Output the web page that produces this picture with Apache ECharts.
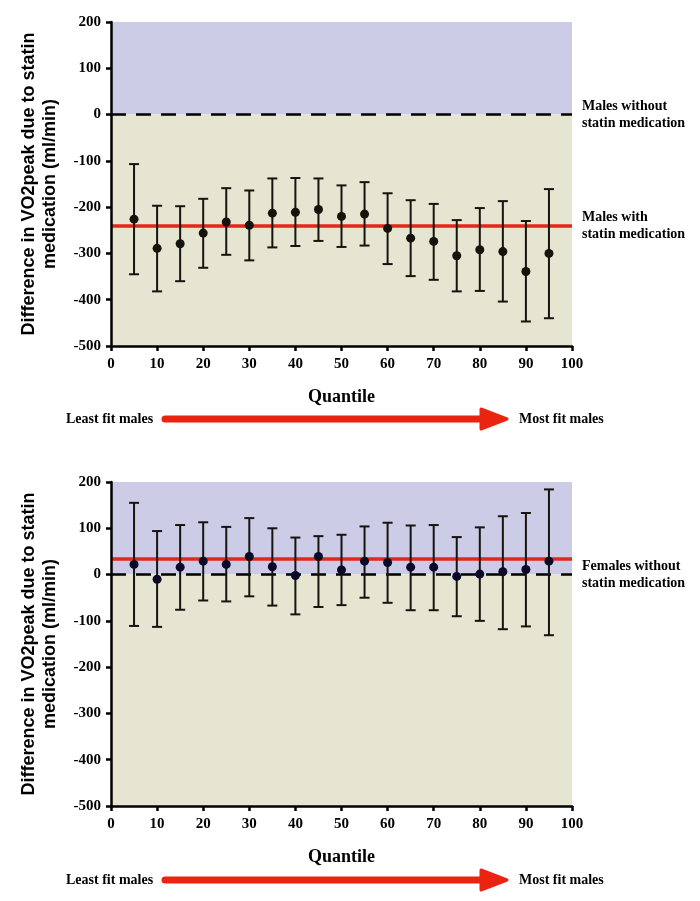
<!DOCTYPE html>
<html><head><meta charset="utf-8">
<script src="https://cdn.jsdelivr.net/npm/echarts@6/dist/echarts.min.js"></script>
<style>html,body{margin:0;padding:0;background:#fff}#c{width:700px;height:901px}</style>
</head><body><div id="c"></div>
<script>
const quantiles = [5,10,15,20,25,30,35,40,45,50,55,60,65,70,75,80,85,90,95];
const maleMean  = [-226,-289,-279,-256,-232,-239,-213,-211,-205,-220,-215,-246,-267,-274,-305,-292,-296,-339,-300];
const maleUpper = [-107,-197,-198,-182,-159,-164,-138,-137,-138,-153,-146,-170,-185,-193,-228,-202,-187,-230,-161];
const maleLower = [-345,-382,-360,-331,-303,-315,-287,-284,-273,-286,-283,-323,-349,-357,-382,-381,-404,-447,-440];
const femaleMean  = [22,-10,16,29,22,39,17,-2,39,10,29,26,16,16,-4,1,6,11,29];
const femaleUpper = [155,94,107,113,103,122,100,80,83,86,104,112,106,107,81,102,126,133,184];
const femaleLower = [-111,-113,-76,-56,-58,-47,-67,-86,-70,-66,-50,-61,-77,-77,-90,-100,-118,-112,-131];
const maleStatinLevel = -240;
const femaleStatinLevel = 35;
const referenceLevel = 0;
const yMin = -500, yMax = 200, yStep = 100;
const xMin = 0, xMax = 100, xStep = 10;
const yTitle = 'Difference in VO2peak due to statin\nmedication (ml/min)';
const xTitle = 'Quantile';
const lblMaleWithout = 'Males without\nstatin medication';
const lblMaleWith = 'Males with\nstatin medication';
const lblFemaleWithout = 'Females without\nstatin medication';
const arrowLeft = 'Least fit males';
const arrowRight = 'Most fit males';

const SERIF = '"Liberation Serif","Times New Roman",serif';
const SANS = '"Liberation Sans",Arial,sans-serif';
const LAV = '#cdcce6', BEIGE = '#e6e5d1', RED = '#e5261a', ARROW_RED = '#ea2410';

const chart = echarts.init(document.getElementById('c'), null, {renderer: 'canvas'});

function errorBar(params, api) {
  const x = api.value(0), lo = api.value(1), hi = api.value(2);
  const a = api.coord([x, hi]), b = api.coord([x, lo]);
  const hw = 5;
  const style = {stroke: '#15140e', lineWidth: 2};
  return {type: 'group', children: [
    {type: 'line', shape: {x1: a[0], y1: a[1], x2: b[0], y2: b[1]}, style},
    {type: 'line', shape: {x1: a[0]-hw, y1: a[1], x2: a[0]+hw, y2: a[1]}, style},
    {type: 'line', shape: {x1: b[0]-hw, y1: b[1], x2: b[0]+hw, y2: b[1]}, style}
  ]};
}

function xAxisCfg(gi) {
  return {
    type: 'value', gridIndex: gi, min: xMin, max: xMax, interval: xStep, z: 10,
    name: xTitle, nameLocation: 'middle', nameGap: 42,
    nameTextStyle: {fontFamily: SERIF, fontWeight: 'bold', fontSize: 18, color: '#000'},
    axisLine: {show: true, onZero: false, lineStyle: {color: '#000', width: 2.5}},
    axisTick: {show: true, inside: false, length: 5, lineStyle: {color: '#000', width: 2.5}},
    axisLabel: {fontFamily: SERIF, fontWeight: 'bold', fontSize: 15, color: '#000', margin: 11},
    splitLine: {show: false}
  };
}
function yAxisCfg(gi) {
  return {
    type: 'value', gridIndex: gi, min: yMin, max: yMax, interval: yStep, z: 10,
    name: yTitle, nameLocation: 'middle', nameGap: 50, nameRotate: 90,
    nameTextStyle: {fontFamily: SANS, fontWeight: 'bold', fontSize: 18, lineHeight: 21, color: '#000', align: 'center'},
    axisLine: {show: true, onZero: false, lineStyle: {color: '#000', width: 2.5}},
    axisTick: {show: true, inside: false, length: 5, lineStyle: {color: '#000', width: 2.5}},
    axisLabel: {fontFamily: SERIF, fontWeight: 'bold', fontSize: 15, color: '#000', margin: 10},
    splitLine: {show: false}
  };
}

const lineLabel = (txt) => ({
  show: !!txt, position: 'end', distance: 10, formatter: txt || '',
  fontFamily: SERIF, fontWeight: 'bold', fontSize: 14, lineHeight: 17, color: '#000', align: 'left'
});

function panelSeries(gi, mean, lower, upper, statinLevel, refLabel, statinLabel, dotColor) {
  return [
    {
      type: 'line', xAxisIndex: gi, yAxisIndex: gi, data: [], silent: true, z: 0,
      markArea: {silent: true, z: 0, data: [
        [{xAxis: xMin, yAxis: referenceLevel, itemStyle: {color: LAV}}, {xAxis: xMax, yAxis: yMax}],
        [{xAxis: xMin, yAxis: yMin, itemStyle: {color: BEIGE}}, {xAxis: xMax, yAxis: referenceLevel}]
      ]}
    },
    {
      type: 'line', xAxisIndex: gi, yAxisIndex: gi, data: [], silent: true, z: 1,
      markLine: {silent: true, z: 1, symbol: 'none', animation: false, data: [
        {yAxis: referenceLevel, lineStyle: {color: '#000', width: 2.5, type: [15, 10]}, label: lineLabel(refLabel)},
        {yAxis: statinLevel, lineStyle: {color: RED, width: 3.5, type: 'solid'}, label: lineLabel(statinLabel)}
      ]}
    },
    {
      type: 'custom', xAxisIndex: gi, yAxisIndex: gi, z: 3,
      renderItem: errorBar, encode: {x: 0, y: [1, 2]},
      data: quantiles.map((q, i) => [q, lower[i], upper[i]])
    },
    {
      type: 'scatter', xAxisIndex: gi, yAxisIndex: gi, z: 4, symbolSize: 9,
      itemStyle: {color: dotColor, opacity: 1},
      data: quantiles.map((q, i) => [q, mean[i]])
    }
  ];
}

function arrowGraphic(y) {
  return [
    {type: 'text', x: 66, y: y, style: {text: arrowLeft, fontFamily: SERIF, fontWeight: 'bold', fontSize: 14, fill: '#000', verticalAlign: 'middle'}},
    {type: 'line', shape: {x1: 165, y1: y, x2: 486, y2: y}, style: {stroke: ARROW_RED, lineWidth: 7, lineCap: 'round'}},
    {type: 'polygon', shape: {points: [[481, y - 10], [507, y], [481, y + 10]]}, style: {fill: ARROW_RED, stroke: ARROW_RED, lineWidth: 3, lineJoin: 'round'}},
    {type: 'text', x: 519, y: y, style: {text: arrowRight, fontFamily: SERIF, fontWeight: 'bold', fontSize: 14, fill: '#000', verticalAlign: 'middle'}}
  ];
}

chart.setOption({
  animation: false,
  backgroundColor: '#fff',
  grid: [
    {left: 111, width: 461, top: 22, height: 324},
    {left: 111, width: 461, top: 482, height: 324}
  ],
  xAxis: [xAxisCfg(0), xAxisCfg(1)],
  yAxis: [yAxisCfg(0), yAxisCfg(1)],
  series: [
    ...panelSeries(0, maleMean, maleLower, maleUpper, maleStatinLevel, lblMaleWithout, lblMaleWith, '#14130c'),
    ...panelSeries(1, femaleMean, femaleLower, femaleUpper, femaleStatinLevel, lblFemaleWithout, null, '#0a0a28')
  ],
  graphic: [...arrowGraphic(419), ...arrowGraphic(880)]
});
</script></body></html>
